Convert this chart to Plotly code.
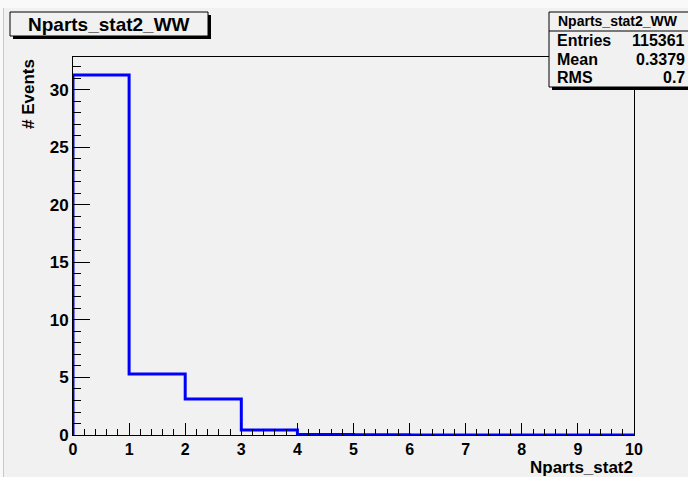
import plotly.graph_objects as go

bin_edges = [0, 1, 2, 3, 4, 5, 6, 7, 8, 9, 10]
bin_values = [31.3, 5.3, 3.13, 0.43, 0.05, 0.02, 0.01, 0.0, 0.0, 0.0]
hist_title = "Nparts_stat2_WW"
x_title = "Nparts_stat2"
y_title = "# Events"
stat_names = ["Entries", "Mean", "RMS"]
stat_values = ["115361", "0.3379", "0.7"]

W, H = 688, 477
L, R, T, B = 73, 634, 57, 435
ymax = max(bin_values) * 1.05
BG = "#f1f1f1"

def px(x):
    return (x - L) / (R - L)

def py(y):
    return (B - y) / (B - T)

xs = [bin_edges[0]] + bin_edges
ys = [0] + bin_values + [bin_values[-1]]

FONT = "Liberation Sans"
fig = go.Figure()
fig.add_trace(go.Scatter(x=xs, y=ys, mode="lines", line=dict(color="#0000ff", width=3, shape="hv"),
                         hoverinfo="skip", showlegend=False))

fig.update_layout(
    width=W, height=H,
    margin=dict(l=L, r=W - R, t=T, b=H - B),
    paper_bgcolor=BG, plot_bgcolor=BG,
    font=dict(family=FONT, color="black"),
    showlegend=False,
)
fig.update_xaxes(range=[0, 10], tickvals=list(range(0, 11)), ticks="inside", ticklen=12, tickwidth=1,
                 tickcolor="black", showgrid=False, zeroline=False, showline=True, linecolor="black",
                 linewidth=1, mirror=True,
                 tickfont=dict(family=FONT, size=16, color="black", weight="bold"),
                 minor=dict(dtick=0.2, ticks="inside", ticklen=6, tickcolor="black", showgrid=False))
fig.update_yaxes(range=[0, ymax], tickvals=[0, 5, 10, 15, 20, 25, 30], ticks="inside", ticklen=17, tickwidth=1,
                 tickcolor="black", showgrid=False, zeroline=False, showline=True, linecolor="black",
                 linewidth=1, mirror=True,
                 tickfont=dict(family=FONT, size=17, color="black", weight="bold"),
                 minor=dict(dtick=1, ticks="inside", ticklen=8, tickcolor="black", showgrid=False))

shapes = []
annots = []
# canvas frame decorations
shapes.append(dict(type="rect", xref="paper", yref="paper", x0=px(0), x1=px(688), y0=py(8), y1=py(0),
                   fillcolor="#f9f9f9", line=dict(width=0), layer="below"))
shapes.append(dict(type="rect", xref="paper", yref="paper", x0=px(0), x1=px(3), y0=py(477), y1=py(0),
                   fillcolor="#f9f9f9", line=dict(width=0), layer="below"))
shapes.append(dict(type="line", xref="paper", yref="paper", x0=px(3.5), x1=px(3.5), y0=py(477), y1=py(8),
                   line=dict(color="#c8c8c8", width=1), layer="below"))
# Title box with shadow
shapes.append(dict(type="rect", xref="paper", yref="paper", x0=px(13), x1=px(211), y0=py(39), y1=py(15),
                   fillcolor="black", line=dict(width=0), layer="above"))
shapes.append(dict(type="rect", xref="paper", yref="paper", x0=px(10), x1=px(208), y0=py(36), y1=py(12),
                   fillcolor=BG, line=dict(color="black", width=1), layer="above"))
annots.append(dict(xref="paper", yref="paper", x=px(109), y=py(24), text=hist_title, showarrow=False,
                   xanchor="center", yanchor="middle", font=dict(family=FONT, size=19, color="black", weight="bold")))
# Stats box
shapes.append(dict(type="rect", xref="paper", yref="paper", x0=px(552), x1=px(692), y0=py(90), y1=py(15),
                   fillcolor="black", line=dict(width=0), layer="above"))
shapes.append(dict(type="rect", xref="paper", yref="paper", x0=px(549), x1=px(692), y0=py(87), y1=py(12),
                   fillcolor=BG, line=dict(color="black", width=1), layer="above"))
shapes.append(dict(type="line", xref="paper", yref="paper", x0=px(549), x1=px(692), y0=py(31), y1=py(31),
                   line=dict(color="black", width=1), layer="above"))
annots.append(dict(xref="paper", yref="paper", x=px(618), y=py(21), text=hist_title, showarrow=False,
                   xanchor="center", yanchor="middle", font=dict(family=FONT, size=14, color="black", weight="bold")))
row_y = [40, 59, 77]
for name, val, yy in zip(stat_names, stat_values, row_y):
    annots.append(dict(xref="paper", yref="paper", x=px(555), y=py(yy), text=name, showarrow=False,
                       xanchor="left", yanchor="middle", font=dict(family=FONT, size=16, color="black", weight="bold")))
    annots.append(dict(xref="paper", yref="paper", x=px(687), y=py(yy), text=val, showarrow=False,
                       xanchor="right", yanchor="middle", font=dict(family=FONT, size=16, color="black", weight="bold")))
# Axis titles
annots.append(dict(xref="paper", yref="paper", x=px(28), y=py(94), text=y_title, showarrow=False, textangle=-90,
                   xanchor="center", yanchor="middle", font=dict(family=FONT, size=17, color="black", weight="bold")))
annots.append(dict(xref="paper", yref="paper", x=px(635), y=py(467.5), text=x_title, showarrow=False,
                   xanchor="right", yanchor="middle", font=dict(family=FONT, size=17, color="black", weight="bold")))

fig.update_layout(shapes=shapes, annotations=annots)
fig.write_html("out.html", config={"displayModeBar": False},
               post_script="document.body.style.margin='0';document.body.style.overflow='hidden';")
